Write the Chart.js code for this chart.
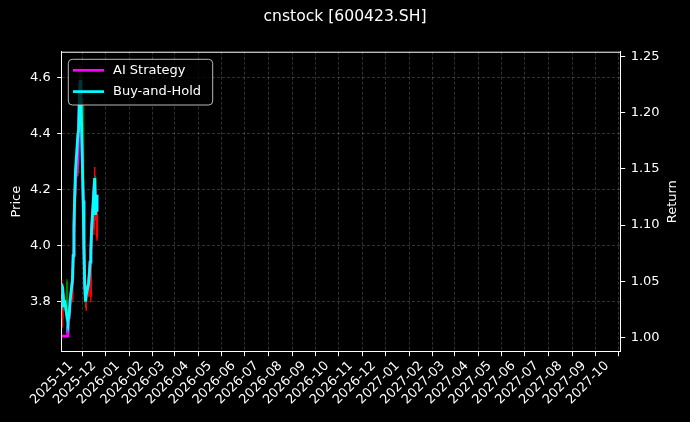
<!DOCTYPE html>
<html>
<head>
<meta charset="utf-8">
<script src="https://cdn.jsdelivr.net/npm/chart.js@4.4.0/dist/chart.umd.min.js"></script>
<style>
  html, body { margin: 0; padding: 0; background: #000; }
  #wrap { width: 690px; height: 422px; }
</style>
</head>
<body>
<div id="wrap"><canvas id="chart" width="690" height="422"></canvas></div>
<script>
// ==================== DATA ====================
const titleText = 'cnstock [600423.SH]';

const dates = [
    '2025-10-20', '2025-10-21', '2025-10-22', '2025-10-23', '2025-10-24',
    '2025-10-27', '2025-10-28', '2025-10-29', '2025-10-30', '2025-10-31',
    '2025-11-03', '2025-11-04', '2025-11-05', '2025-11-06', '2025-11-07',
    '2025-11-10', '2025-11-11', '2025-11-12', '2025-11-13', '2025-11-14',
    '2025-11-17', '2025-11-18', '2025-11-19', '2025-11-20', '2025-11-21',
    '2025-11-24', '2025-11-25', '2025-11-26', '2025-11-27', '2025-11-28',
    '2025-12-01', '2025-12-02', '2025-12-03', '2025-12-04', '2025-12-05'
];

// daily candles (left axis, Price)
const opens  = [3.83, 3.74, 3.83, 3.82, 3.79, 3.87, 3.74, 3.73, 3.74, 3.76,
                3.81, 3.88, 3.97, 4.07, 4.18, 4.27, 4.43, 4.41, 4.52, 4.59,
                4.50, 4.16, 3.99, 3.86, 3.80, 3.83, 3.87, 3.90, 3.82, 3.99,
                4.06, 4.20, 4.24, 4.11, 4.03];
const highs  = [3.88, 3.83, 3.85, 3.83, 3.82, 3.88, 3.76, 3.76, 3.78, 3.82,
                3.90, 3.99, 4.10, 4.20, 4.29, 4.42, 4.46, 4.55, 4.64, 4.62,
                4.52, 4.20, 4.02, 3.88, 3.85, 3.89, 3.91, 3.96, 4.00, 4.08,
                4.22, 4.28, 4.25, 4.20, 4.13];
const lows   = [3.80, 3.71, 3.80, 3.77, 3.78, 3.73, 3.72, 3.72, 3.73, 3.75,
                3.80, 3.87, 3.95, 4.05, 4.16, 4.25, 4.26, 4.39, 4.50, 4.50,
                4.14, 3.96, 3.84, 3.78, 3.77, 3.82, 3.85, 3.88, 3.80, 3.97,
                4.04, 4.18, 4.09, 4.10, 4.02];
const closes = [3.86, 3.81, 3.82, 3.79, 3.81, 3.74, 3.73, 3.74, 3.76, 3.81,
                3.88, 3.97, 4.07, 4.18, 4.27, 4.40, 4.41, 4.52, 4.59, 4.54,
                4.16, 3.99, 3.86, 3.80, 3.83, 3.87, 3.90, 3.94, 3.99, 4.06,
                4.20, 4.24, 4.11, 4.18, 4.12];

// cumulative returns (right axis, Return)
const aiReturn = [1.001, 1.001, 1.001, 1.001, 1.001, 1.001, 1.006, 1.014, 1.023, 1.033,
                  1.051, 1.073, 1.100, 1.125, 1.140, 1.155, 1.185, 1.212, 1.229, 1.216,
                  1.122, 1.078, 1.047, 1.032, 1.038, 1.048, 1.056, 1.067, 1.078, 1.096,
                  1.131, 1.142, 1.109, 1.127, 1.112];
const bhReturn = [1.048, 1.033, 1.037, 1.028, 1.033, 1.017, 1.014, 1.017, 1.023, 1.033,
                  1.051, 1.073, 1.100, 1.127, 1.149, 1.180, 1.185, 1.212, 1.229, 1.216,
                  1.122, 1.078, 1.047, 1.032, 1.038, 1.048, 1.056, 1.067, 1.078, 1.096,
                  1.131, 1.142, 1.109, 1.127, 1.112];

const monthLabels = [
    '2025-11', '2025-12', '2026-01', '2026-02', '2026-03', '2026-04',
    '2026-05', '2026-06', '2026-07', '2026-08', '2026-09', '2026-10',
    '2026-11', '2026-12', '2027-01', '2027-02', '2027-03', '2027-04',
    '2027-05', '2027-06', '2027-07', '2027-08', '2027-09', '2027-10'
];
const priceTicks = [3.8, 4.0, 4.2, 4.4, 4.6];
const returnTicks = [1.00, 1.05, 1.10, 1.15, 1.20, 1.25];

const xStart = '2025-10-20';
const xEnd = '2027-10-19';
const priceRange = [3.6225, 4.693];
const returnRange = [0.9872, 1.2545];

// ==================== HELPERS ====================
const DAY = 86400000;
const BASE = Date.UTC(2025, 10, 1);
function dayNum(s) {
    const [y, m, d] = s.split('-').map(Number);
    return (Date.UTC(y, m - 1, d || 1) - BASE) / DAY;
}

const UP = '#ff0000', DOWN = '#008000';
const candleColors = closes.map((c, i) => c >= opens[i] ? UP : DOWN);
const FONT = 'DejaVu Sans';
const GRID = 'rgba(255,255,255,0.28)';

// top spine, right axis title (reads bottom-up like matplotlib) and legend box
const framePlugin = {
    id: 'frame',
    afterDatasetsDraw(chart) {
        const { ctx, chartArea: a } = chart;
        ctx.save();
        ctx.strokeStyle = '#ffffff';
        ctx.lineWidth = 1;
        ctx.beginPath();
        ctx.moveTo(a.left, a.top + 0.5);
        ctx.lineTo(a.right, a.top + 0.5);
        ctx.stroke();

        ctx.font = '13px "' + FONT + '"';
        ctx.fillStyle = '#ffffff';
        ctx.textAlign = 'center';
        ctx.textBaseline = 'middle';
        ctx.save();
        ctx.translate(672.7, (a.top + a.bottom) / 2);
        ctx.rotate(-Math.PI / 2);
        ctx.fillText('Return', 0, 0);
        ctx.restore();

        // legend
        const bx = 68.3, by = 59.3, bw = 144.4, bh = 45.7, r = 4;
        ctx.beginPath();
        ctx.roundRect(bx, by, bw, bh, r);
        ctx.fillStyle = 'rgba(0,0,0,0.8)';
        ctx.fill();
        ctx.strokeStyle = 'rgba(204,204,204,0.9)';
        ctx.lineWidth = 1;
        ctx.stroke();

        const items = [
            { label: chart.data.datasets[1].label, color: chart.data.datasets[1].borderColor, y: 70.3 },
            { label: chart.data.datasets[0].label, color: chart.data.datasets[0].borderColor, y: 91.6 }
        ];
        ctx.textBaseline = 'middle';
        ctx.textAlign = 'left';
        items.forEach(it => {
            ctx.strokeStyle = it.color;
            ctx.lineWidth = 2.7;
            ctx.beginPath();
            ctx.moveTo(73, it.y);
            ctx.lineTo(104, it.y);
            ctx.stroke();
            ctx.fillStyle = '#ffffff';
            ctx.fillText(it.label, 113, it.y + 0.5);
        });
        ctx.restore();
    }
};

// ==================== CHART ====================
const ctx = document.getElementById('chart');
new Chart(ctx, {
    type: 'line',
    data: {
        datasets: [
            {
                type: 'line',
                label: 'Buy-and-Hold',
                data: dates.map((d, i) => ({ x: dayNum(d), y: bhReturn[i] })),
                yAxisID: 'y2',
                borderColor: '#00ffff',
                borderWidth: 2.8,
                pointRadius: 0,
                tension: 0,
                order: 1
            },
            {
                type: 'line',
                label: 'AI Strategy',
                data: dates.map((d, i) => ({ x: dayNum(d), y: aiReturn[i] })),
                yAxisID: 'y2',
                borderColor: '#ff00ff',
                borderWidth: 2.8,
                pointRadius: 0,
                tension: 0,
                order: 2
            },
            {
                type: 'bar',
                label: 'body',
                data: dates.map((d, i) => ({ x: dayNum(d), y: [opens[i], closes[i]] })),
                yAxisID: 'y',
                backgroundColor: candleColors,
                borderWidth: 0,
                barThickness: 1.6,
                grouped: false,
                order: 3
            },
            {
                type: 'bar',
                label: 'wick',
                data: dates.map((d, i) => ({ x: dayNum(d), y: [lows[i], highs[i]] })),
                yAxisID: 'y',
                backgroundColor: candleColors,
                borderWidth: 0,
                barThickness: 0.8,
                grouped: false,
                order: 4
            }
        ]
    },
    options: {
        responsive: false,
        animation: false,
        layout: { padding: 0 },
        plugins: {
            legend: { display: false },
            tooltip: { enabled: false },
            title: {
                display: true,
                text: titleText,
                color: '#ffffff',
                font: { family: FONT, size: 15.6, weight: 'normal' },
                padding: { top: 8, bottom: 25 }
            }
        },
        scales: {
            x: {
                type: 'linear',
                position: 'bottom',
                offset: false,
                min: dayNum(xStart),
                max: dayNum(xEnd),
                afterBuildTicks: s => { s.ticks = monthLabels.map(m => ({ value: dayNum(m + '-01') })); },
                afterFit: s => { s.height = 70.3; },
                ticks: {
                    autoSkip: false,
                    minRotation: 45,
                    maxRotation: 45,
                    padding: 2,
                    color: '#ffffff',
                    font: { family: FONT, size: 13 },
                    callback: (v, i) => monthLabels[i]
                },
                grid: {
                    color: GRID,
                    lineWidth: 0.7,
                    tickColor: '#ffffff',
                    tickLength: 4.5,
                    tickWidth: 1,
                    tickBorderDash: []
                },
                border: { color: '#ffffff', width: 1, dash: [3, 2] }
            },
            y: {
                type: 'linear',
                position: 'left',
                min: priceRange[0],
                max: priceRange[1],
                afterBuildTicks: s => { s.ticks = priceTicks.map(v => ({ value: v })); },
                afterFit: s => { s.width = 61.7; },
                ticks: {
                    padding: 6.5,
                    color: '#ffffff',
                    font: { family: FONT, size: 13 },
                    callback: v => v.toFixed(1)
                },
                title: {
                    display: true,
                    text: 'Price',
                    color: '#ffffff',
                    font: { family: FONT, size: 13 },
                    padding: { top: 9, bottom: 0 }
                },
                grid: {
                    color: GRID,
                    lineWidth: 0.7,
                    tickColor: '#ffffff',
                    tickLength: 4.5,
                    tickWidth: 1,
                    tickBorderDash: []
                },
                border: { color: '#ffffff', width: 1, dash: [3, 2] }
            },
            y2: {
                type: 'linear',
                position: 'right',
                min: returnRange[0],
                max: returnRange[1],
                afterBuildTicks: s => { s.ticks = returnTicks.map(v => ({ value: v })); },
                afterFit: s => { s.width = 69.3; },
                ticks: {
                    padding: 5.5,
                    color: '#ffffff',
                    font: { family: FONT, size: 13 },
                    callback: v => v.toFixed(2)
                },
                title: { display: false },
                grid: {
                    drawOnChartArea: false,
                    tickColor: '#ffffff',
                    tickLength: 4.5,
                    tickWidth: 1
                },
                border: { color: '#ffffff', width: 1 }
            }
        }
    },
    plugins: [framePlugin]
});
</script>
</body>
</html>
